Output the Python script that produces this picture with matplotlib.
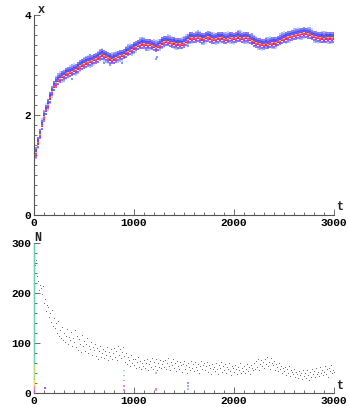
import numpy as np
import matplotlib
matplotlib.use("Agg")
import matplotlib.pyplot as plt
from matplotlib.ticker import MultipleLocator

# ---------------- data ----------------
# mean trait x sampled every 20 time units (t = 0 .. 3000)
x_t = list(range(0, 3001, 20))
x_center = [
    1.05, 1.25, 1.45, 1.62, 1.80, 1.97, 2.10, 2.22, 2.35, 2.48,
    2.58, 2.65, 2.70, 2.74, 2.78, 2.80, 2.83, 2.85, 2.86, 2.88,
    2.90, 2.92, 2.95, 2.99, 3.01, 3.03, 3.05, 3.07, 3.08, 3.10,
    3.12, 3.13, 3.15, 3.19, 3.21, 3.20, 3.18, 3.15, 3.13, 3.12,
    3.13, 3.15, 3.18, 3.20, 3.20, 3.22, 3.25, 3.28, 3.30, 3.32,
    3.35, 3.38, 3.40, 3.42, 3.43, 3.43, 3.42, 3.42, 3.42, 3.40,
    3.38, 3.36, 3.38, 3.42, 3.45, 3.47, 3.48, 3.48, 3.46, 3.45,
    3.45, 3.44, 3.43, 3.43, 3.42, 3.45, 3.48, 3.52, 3.55, 3.55,
    3.54, 3.55, 3.56, 3.55, 3.53, 3.54, 3.56, 3.57, 3.55, 3.53,
    3.52, 3.54, 3.55, 3.56, 3.55, 3.53, 3.52, 3.54, 3.56, 3.55,
    3.54, 3.55, 3.57, 3.56, 3.54, 3.55, 3.56, 3.55, 3.52, 3.50,
    3.47, 3.45, 3.44, 3.43, 3.42, 3.42, 3.43, 3.42, 3.44, 3.45,
    3.45, 3.46, 3.48, 3.50, 3.52, 3.54, 3.55, 3.57, 3.58, 3.59,
    3.60, 3.61, 3.62, 3.63, 3.64, 3.65, 3.64, 3.63, 3.62, 3.60,
    3.58, 3.57, 3.56, 3.55, 3.55, 3.54, 3.55, 3.56, 3.55, 3.55,
    3.55,
]
# spread of the individual strains around the mean
strain_offsets = [-0.12, -0.085, -0.055, -0.027, 0.0, 0.027, 0.055, 0.085, 0.12]
# a few stray strains
x_out_t = [380, 700, 760, 1120, 1220, 1230, 1540, 2180, 2300, 2320, 560, 880]
x_out_x = [2.72, 3.05, 3.00, 3.30, 3.12, 3.16, 3.38, 3.62, 3.32, 3.36, 3.20, 3.05]

# population size N sampled every 10 time units
N_t = list(range(0, 3001, 10))
N_vals = [
    285, 255, 265, 232, 222, 205, 215, 208, 196, 212,
    178, 186, 162, 175, 170, 150, 158, 140, 165, 132,
    148, 128, 138, 118, 142, 112, 125, 108, 130, 104,
    118, 100, 112, 126, 96, 110, 104, 120, 92, 108,
    100, 124, 90, 112, 84, 106, 96, 80, 114, 92,
    102, 82, 96, 108, 78, 92, 86, 100, 74, 90,
    84, 96, 72, 88, 66, 82, 92, 70, 78, 86,
    68, 82, 74, 90, 64, 80, 72, 86, 66, 78,
    88, 70, 82, 64, 92, 74, 86, 68, 80, 90,
    72, 60, 78, 56, 70, 64, 52, 74, 58, 66,
    54, 66, 48, 60, 70, 50, 62, 46, 58, 52,
    64, 48, 58, 66, 44, 56, 62, 50, 68, 46,
    60, 52, 66, 44, 58, 50, 64, 48, 56, 62,
    50, 64, 46, 58, 68, 52, 44, 60, 54, 66,
    48, 58, 42, 62, 52, 46, 60, 54, 40, 56,
    62, 46, 54, 38, 58, 50, 44, 62, 48, 56,
    42, 60, 50, 44, 56, 38, 52, 62, 46, 54,
    58, 44, 52, 60, 40, 54, 48, 36, 56, 46,
    50, 42, 58, 46, 36, 54, 48, 60, 40, 52,
    44, 56, 38, 50, 46, 58, 42, 34, 52, 48,
    40, 54, 46, 36, 50, 44, 58, 38, 48, 42,
    52, 38, 46, 56, 42, 50, 36, 54, 48, 44,
    58, 46, 62, 50, 66, 44, 56, 64, 52, 60,
    48, 66, 56, 70, 52, 60, 46, 68, 58, 54,
    62, 44, 56, 50, 42, 58, 46, 52, 38, 48,
    42, 50, 34, 46, 38, 52, 32, 44, 40, 36,
    46, 30, 40, 36, 28, 42, 34, 38, 26, 44,
    32, 38, 28, 44, 34, 24, 40, 30, 46, 36,
    42, 30, 48, 36, 40, 32, 50, 38, 44, 34,
    40, 52, 36, 46, 30, 48, 42, 54, 38, 44,
    40,
]
# initial strains stacked at t = 0 (N ranges and colours)
init_N_edges = [0, 6, 14, 28, 60, 300]
init_colors = ["#b060ff", "#ff80b8", "#ffd860", "#b0e080", "#6cd0b4"]
# small mutant populations
mut_t = [110, 900, 900, 900, 900, 900, 1220, 1220, 1220, 1540, 1540, 1540]
mut_N = [10, 45, 35, 25, 14, 6, 8, 5, 40, 20, 14, 8]
mut_c = ["#9060ff", "#90d8ff", "#90c8ff", "#a8a8ff", "#c890ff", "#d890ff",
         "#d880ff", "#e090ff", "#a0c8ff", "#80a0ff", "#90b0ff", "#a0c0ff"]

# ---------------- figure ----------------
W, H = 349, 407
fig = plt.figure(figsize=(W / 100, H / 100), dpi=100)
FONT = "Liberation Mono"

x_left, x_right = 34, 334
ax1 = fig.add_axes([x_left / W, 1 - 215 / H, (x_right - x_left) / W, 200 / H])
ax2 = fig.add_axes([x_left / W, 1 - 393 / H, (x_right - x_left) / W, 150 / H])

for ax in (ax1, ax2):
    for s in ("top", "right"):
        ax.spines[s].set_visible(False)
    for s in ("left", "bottom"):
        ax.spines[s].set_color("#555555")
        ax.spines[s].set_linewidth(0.8)
    ax.set_xlim(0, 3000)
    ax.xaxis.set_major_locator(MultipleLocator(1000))
    ax.xaxis.set_minor_locator(MultipleLocator(100))
    ax.tick_params(which="both", direction="in", color="#555555", width=0.6,
                   labelsize=8, pad=2)
    ax.tick_params(which="major", length=4)
    ax.tick_params(which="minor", length=2)
    ax.set_facecolor("none")

# ---- top panel: traits ----
ax1.set_ylim(0, 4)
ax1.yaxis.set_major_locator(MultipleLocator(2))
ax1.yaxis.set_minor_locator(MultipleLocator(0.2))

pal_by_level = [
    ["#ff2a50", "#e030c8", "#ff6a20", "#c020e0", "#ff3090", "#ffc020"],   # centre
    ["#e03050", "#5a50ff", "#d040d0", "#ff40a0", "#a040f0", "#ff5070"],   # inner
    ["#4050ff", "#a040f0", "#d040d0", "#3a6aff", "none", "#e050b0"],      # middle
    ["#7c9cff", "none", "#6a80ff", "#a8c0ff", "none", "#b070f0"],         # outer
    ["#b0c8ff", "none", "none", "#9cb8ff", "none", "none", "#c0dcff"],    # fringe
]
levels = sorted(set(abs(o) for o in strain_offsets))
xt = np.array(x_t)
xc = np.array(x_center)
for j, off in enumerate(strain_offsets):
    pal = pal_by_level[levels.index(abs(off))]
    cols = [pal[(i * 3 + j * 2) % len(pal)] for i in range(len(xt))]
    keep = [c != "none" for c in cols]
    ax1.scatter(xt[keep], (xc + off)[keep], s=1.6, c=[c for c in cols if c != "none"],
                marker="s", linewidths=0, zorder=2)
ax1.scatter(x_out_t, x_out_x, s=1.6, c="#7c9cff", marker="s", linewidths=0, zorder=2)

# ---- bottom panel: population size ----
ax2.set_ylim(0, 300)
ax2.yaxis.set_major_locator(MultipleLocator(100))
ax2.yaxis.set_minor_locator(MultipleLocator(20))
for k in range(len(init_colors)):
    ax2.plot([0, 0], [init_N_edges[k], init_N_edges[k + 1]], color=init_colors[k],
             lw=1.0, solid_capstyle="butt", zorder=3, clip_on=False)
ax2.plot(N_t, N_vals, ",", color="#707070", zorder=2)
ax2.scatter(mut_t, mut_N, s=1.0, c=mut_c, marker="s", linewidths=0, zorder=2)

for lab in ax1.get_xticklabels() + ax1.get_yticklabels() + ax2.get_xticklabels() + ax2.get_yticklabels():
    lab.set_fontfamily(FONT)
    lab.set_fontweight("bold")

# axis labels, Mathematica-style
lab_kw = dict(fontfamily=FONT, fontweight="bold", fontsize=8.5, color="#222222")
fig.text(41 / W, 1 - 10 / H, "x", ha="center", va="center", **lab_kw)
fig.text(340 / W, 1 - 207 / H, "t", ha="center", va="center", **lab_kw)
fig.text(38 / W, 1 - 238 / H, "N", ha="center", va="center", **lab_kw)
fig.text(340 / W, 1 - 386 / H, "t", ha="center", va="center", **lab_kw)

fig.savefig("out.png", dpi=100)
